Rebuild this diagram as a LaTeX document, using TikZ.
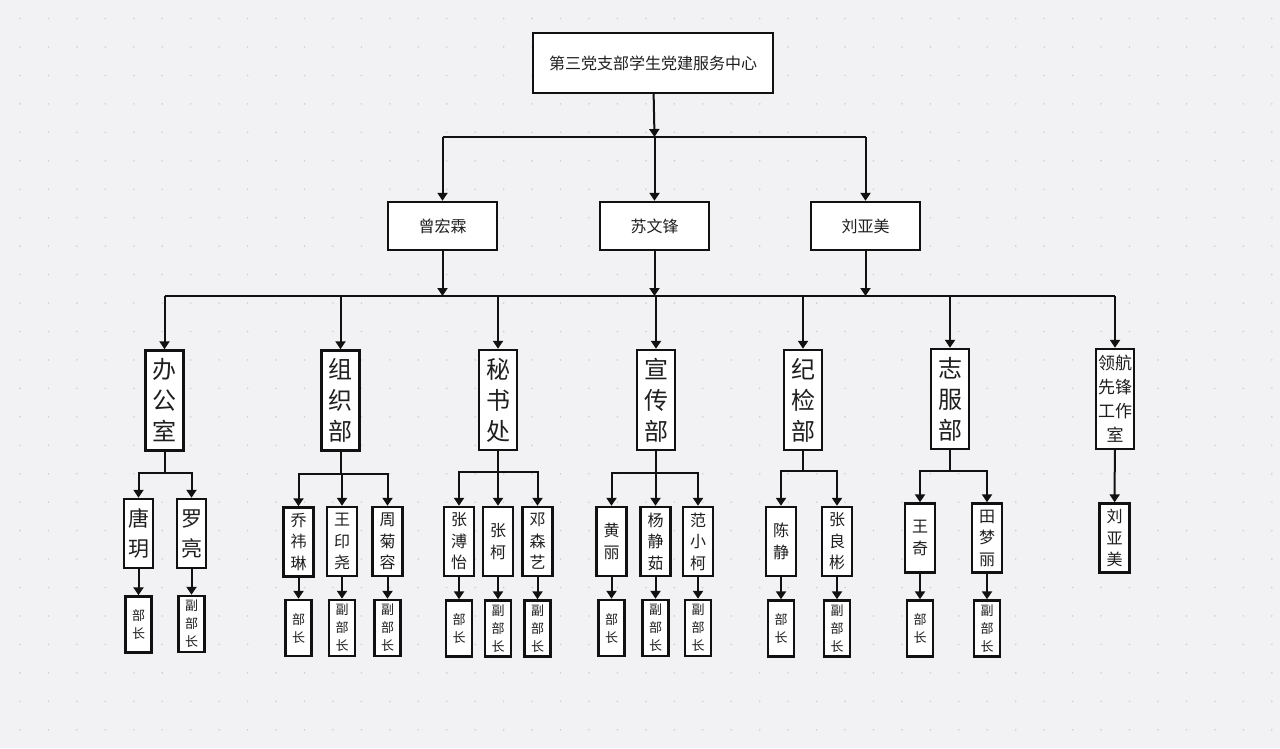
\documentclass[tikz,border=0pt]{standalone}
\usepackage{fontspec}
\setmainfont{Noto Sans CJK SC}
\usetikzlibrary{arrows.meta}
\definecolor{bgc}{HTML}{F2F2F4}
\definecolor{dotc}{HTML}{CFCFD4}
\definecolor{linec}{HTML}{111111}
\tikzset{
  box/.style={draw=linec, line width=2.4pt, fill=white, rectangle, inner sep=0pt, align=center, text=black!88},
  wide/.style={box, minimum width=240pt, minimum height=60pt, font=\fontsize{16}{20}\selectfont},
  mgr/.style={box, minimum width=109pt, minimum height=48pt, font=\fontsize{16}{20}\selectfont},
  dept/.style={box, minimum width=38pt, minimum height=100pt, font=\fontsize{24}{31}\selectfont},
  team/.style={box, minimum width=38pt, minimum height=100pt, font=\fontsize{17}{24}\selectfont},
  person/.style={box, minimum width=30pt, minimum height=69pt, font=\fontsize{16}{21.5}\selectfont},
  bigperson/.style={box, minimum width=29pt, minimum height=69pt, font=\fontsize{21}{30}\selectfont},
  role/.style={box, minimum width=26pt, minimum height=56pt, font=\fontsize{13}{18}\selectfont},
  link/.style={draw=linec, line width=2pt},
  arr/.style={link, -{Triangle[length=8pt,width=10pt]}}
}
\begin{document}
\begin{tikzpicture}[x=1pt,y=-1pt]
\useasboundingbox (0,0) rectangle (1280,748);
\fill[bgc] (0,0) rectangle (1280,748);
\foreach \i in {0,...,44} {\foreach \j in {0,...,25} {\fill[dotc] ({20+\i*28.45},{18.5+\j*28.45}) circle (0.9pt);}}

% level 1
\node[wide] (top) at (653,63) {第三党支部学生党建服务中心};
% level 2
\node[mgr] (m1) at (442.5,226) {曾宏霖};
\node[mgr] (m2) at (654.5,226) {苏文锋};
\node[mgr] (m3) at (865.5,226) {刘亚美};
\coordinate (tb) at (654.5,137);
\draw[arr] (top) -- (tb);
\draw[link] (m1 |- tb) -- (m3 |- tb);
\foreach \m in {m1,m2,m3} {\draw[arr] (\m |- tb) -- (\m);}

% level 3
\node[dept] (A) at (164.5,400.5) {办\\公\\室};
\node[dept] (B) at (340.5,400.5) {组\\织\\部};
\node[dept] (C) at (498,400) {秘\\书\\处};
\node[dept] (D) at (656,400) {宣\\传\\部};
\node[dept] (E) at (803,400) {纪\\检\\部};
\node[dept] (F) at (950,399) {志\\服\\部};
\node[team] (G) at (1115,399) {领航\\先锋\\工作\\室};

\coordinate (bl) at (164.5,296);
\coordinate (br) at (1115,296);
\draw[link] (bl) -- (br);
\foreach \m in {m1,m2,m3} {\draw[arr] (\m) -- (\m |- bl);}
\foreach \d in {A,B,C,D,E,F,G} {\draw[arr] (\d |- bl) -- (\d);}

% level 4
\node[bigperson] (A1) at (138.5,533.5) {唐\\玥};
\node[bigperson] (A2) at (191.5,533.5) {罗\\亮};
\node[person] (B1) at (298.5,542) {乔\\祎\\琳};
\node[person] (B2) at (342,541.5) {王\\印\\尧};
\node[person] (B3) at (387.5,541.5) {周\\菊\\容};
\node[person] (C1) at (459,541.5) {张\\溥\\怡};
\node[person] (C2) at (498,541.5) {张\\柯};
\node[person] (C3) at (537.5,541.5) {邓\\森\\艺};
\node[person] (D1) at (611.5,541.5) {黄\\丽};
\node[person] (D2) at (655.5,541.5) {杨\\静\\茹};
\node[person] (D3) at (698,541.5) {范\\小\\柯};
\node[person] (E1) at (781,541.5) {陈\\静};
\node[person] (E2) at (837,541.5) {张\\良\\彬};
\node[person] (F1) at (920,538) {王\\奇};
\node[person] (F2) at (987,538) {田\\梦\\丽};
\node[person] (G1) at (1114.5,538) {刘\\亚\\美};

\coordinate (Ab) at (164.5,473);
\coordinate (Bb) at (340.5,474);
\coordinate (Cb) at (498,472);
\coordinate (Db) at (656,473);
\coordinate (Eb) at (803,471);
\coordinate (Fb) at (950,471);
\draw[link] (A) -- (Ab);
\draw[link] (B) -- (Bb);
\draw[link] (C) -- (Cb);
\draw[link] (D) -- (Db);
\draw[link] (E) -- (Eb);
\draw[link] (F) -- (Fb);
\draw[arr] (Ab) -| (A1);
\draw[arr] (Ab) -| (A2);
\draw[arr] (Bb) -| (B1);
\draw[arr] (Bb) -| (B2);
\draw[arr] (Bb) -| (B3);
\draw[arr] (Cb) -| (C1);
\draw[arr] (Cb) -- (C2);
\draw[arr] (Cb) -| (C3);
\draw[arr] (Db) -| (D1);
\draw[arr] (Db) -| (D2);
\draw[arr] (Db) -| (D3);
\draw[arr] (Eb) -| (E1);
\draw[arr] (Eb) -| (E2);
\draw[arr] (Fb) -| (F1);
\draw[arr] (Fb) -| (F2);
\draw[arr] (G) -- (G1);

% level 5
\node[role] (A1r) at (138.5,624.5) {部\\长};
\node[role] (A2r) at (191.5,624) {副\\部\\长};
\node[role] (B1r) at (298.5,628) {部\\长};
\node[role] (B2r) at (342,628) {副\\部\\长};
\node[role] (B3r) at (387.5,628) {副\\部\\长};
\node[role] (C1r) at (459,628.5) {部\\长};
\node[role] (C2r) at (498,628.5) {副\\部\\长};
\node[role] (C3r) at (537.5,628.5) {副\\部\\长};
\node[role] (D1r) at (611.5,628) {部\\长};
\node[role] (D2r) at (655.5,628) {副\\部\\长};
\node[role] (D3r) at (698,628) {副\\部\\长};
\node[role] (E1r) at (781,628.5) {部\\长};
\node[role] (E2r) at (837,628.5) {副\\部\\长};
\node[role] (F1r) at (920,628.5) {部\\长};
\node[role] (F2r) at (987,628.5) {副\\部\\长};
\foreach \p in {A1,A2,B1,B2,B3,C1,C2,C3,D1,D2,D3,E1,E2,F1,F2} {\draw[arr] (\p) -- (\p r);}
\end{tikzpicture}
\end{document}
